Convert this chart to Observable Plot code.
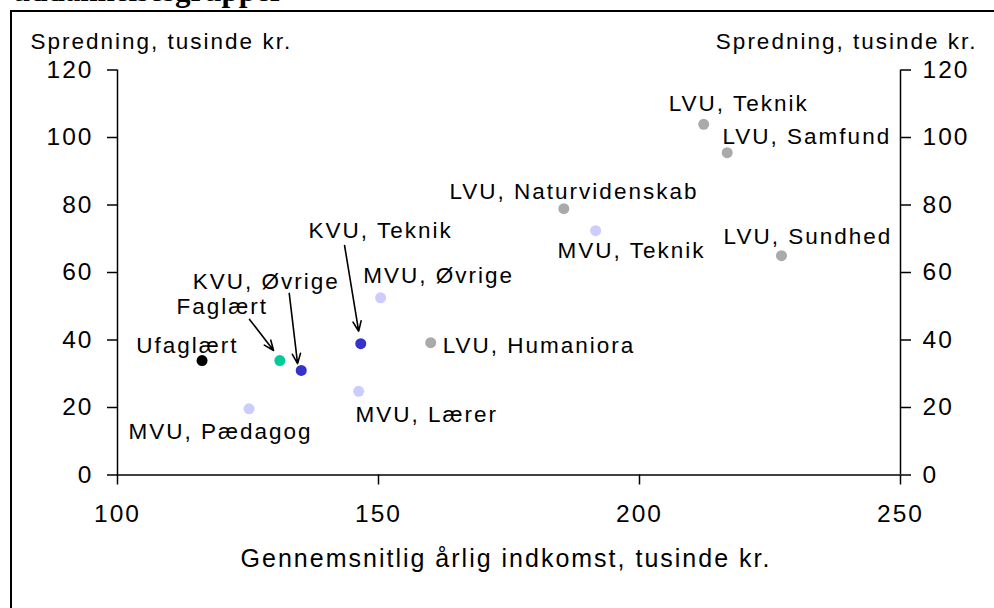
<!DOCTYPE html>
<html>
<head>
<meta charset="utf-8">
<script src="https://cdn.jsdelivr.net/npm/d3@7"></script>
<script src="https://cdn.jsdelivr.net/npm/@observablehq/plot@0.6"></script>
<style>
html, body { margin: 0; padding: 0; background: #fff; overflow: hidden; }
#wrap { position: relative; width: 994px; height: 608px; overflow: hidden; background: #fff; }
#frame { position: absolute; left: 10px; top: 10px; width: 1100px; height: 700px; border-left: 2.5px solid #000; border-top: 2.5px solid #000; box-sizing: border-box; }
#title { position: absolute; left: 13px; top: -25px; font: bold 31px "Liberation Serif", "Times New Roman", serif; line-height: 31px; white-space: nowrap; color: #000; }
#chart { position: absolute; left: 0; top: 0; }
#chart svg text { letter-spacing: 2px; }
</style>
</head>
<body>
<div id="wrap">
  <div id="title">uddannelsesgrupper</div>
  <div id="frame"></div>
  <div id="chart"></div>
</div>
<script>
// ---- Data ----
const groups = ["Ufaglært", "Faglært", "KVU, Øvrige", "KVU, Teknik", "MVU, Pædagog", "MVU, Lærer", "MVU, Øvrige", "MVU, Teknik", "LVU, Humaniora", "LVU, Naturvidenskab", "LVU, Teknik", "LVU, Samfund", "LVU, Sundhed"];
const level = ["Ufaglært", "Faglært", "KVU", "KVU", "MVU", "MVU", "MVU", "MVU", "LVU", "LVU", "LVU", "LVU", "LVU"];
const income = [116.2, 131.1, 135.2, 146.6, 125.2, 146.2, 150.4, 191.6, 160.0, 185.5, 212.3, 216.8, 227.2];
const spread = [33.9, 33.9, 31.0, 38.9, 19.6, 24.8, 52.5, 72.4, 39.2, 78.9, 103.9, 95.5, 65.0];

// label anchor positions (data units, left edge / vertical middle of text)
const labelX = [103.6, 111.3, 114.4, 136.6, 102.1, 145.6, 147.1, 184.3, 162.3, 163.6, 205.6, 215.9, 216.1];
const labelY = [38.4, 49.9, 57.3, 72.4, 12.9, 17.9, 59.1, 66.5, 38.4, 84.0, 110.1, 100.3, 70.7];

// arrows from label to point (data units)
const arrowGroups = ["Faglært", "KVU, Øvrige", "KVU, Teknik"];
const arrowX1 = [125.3, 132.9, 143.5];
const arrowY1 = [46.1, 53.8, 68.0];
const arrowX2 = [129.9, 134.5, 146.2];
const arrowY2 = [36.9, 33.0, 42.6];

const levels = ["Ufaglært", "Faglært", "KVU", "MVU", "LVU"];
const levelColors = ["#000000", "#00cc99", "#3333cc", "#ccccff", "#aaaaaa"];

const xTicks = [100, 150, 200, 250];
const yTicks = [0, 20, 40, 60, 80, 100, 120];
const yLabel = "Spredning, tusinde kr.";
const xLabel = "Gennemsnitlig årlig indkomst, tusinde kr.";

// ---- Build tables ----
const points = groups.map((g, i) => ({group: g, level: level[i], income: income[i], spread: spread[i], lx: labelX[i], ly: labelY[i]}));
const arrows = arrowGroups.map((g, i) => ({group: g, x1: arrowX1[i], y1: arrowY1[i], x2: arrowX2[i], y2: arrowY2[i]}));

const font = "'Liberation Sans', Arial, sans-serif";

const chart = Plot.plot({
  width: 994,
  height: 608,
  marginLeft: 117,
  marginRight: 94,
  marginTop: 69.5,
  marginBottom: 133.5,
  style: {background: "transparent", fontFamily: font, color: "#000", overflow: "visible"},
  x: {domain: [100, 250], axis: null},
  y: {domain: [0, 120], axis: null},
  color: {domain: levels, range: levelColors},
  marks: [
    Plot.axisY({anchor: "left", ticks: yTicks, tickSize: 10, tickPadding: 14, fontSize: 24.5, label: null, strokeWidth: 1.5, tickFormat: d3.format("d")}),
    Plot.axisY({anchor: "right", ticks: yTicks, tickSize: 10, tickPadding: 12, fontSize: 24.5, label: null, strokeWidth: 1.5, tickFormat: d3.format("d")}),
    Plot.axisX({anchor: "bottom", ticks: xTicks, tickSize: 10, tickPadding: 20, fontSize: 24.5, label: null, strokeWidth: 1.5, tickFormat: d3.format("d")}),
    Plot.ruleX([100, 250], {stroke: "#000", strokeWidth: 1.5}),
    Plot.ruleY([0], {stroke: "#000", strokeWidth: 1.5}),
    Plot.text([yLabel], {frameAnchor: "top-left", text: d => d, textAnchor: "start", lineAnchor: "middle", dx: -87, dy: -28, fontSize: 22.5}),
    Plot.text([yLabel], {frameAnchor: "top-right", text: d => d, textAnchor: "end", lineAnchor: "middle", dx: 77, dy: -28, fontSize: 22.5}),
    Plot.text([xLabel], {frameAnchor: "bottom", text: d => d, textAnchor: "middle", lineAnchor: "middle", dx: -3, dy: 84, fontSize: 25}),
    Plot.arrow(arrows, {x1: "x1", y1: "y1", x2: "x2", y2: "y2", stroke: "#000", strokeWidth: 1.6, headLength: 10, headAngle: 45}),
    Plot.dot(points, {x: "income", y: "spread", fill: "level", r: 5.5, stroke: null}),
    Plot.text(points, {x: "lx", y: "ly", text: "group", textAnchor: "start", lineAnchor: "middle", fontSize: 22.5, fill: "#000"})
  ]
});
document.getElementById("chart").appendChild(chart);
</script>
</body>
</html>
